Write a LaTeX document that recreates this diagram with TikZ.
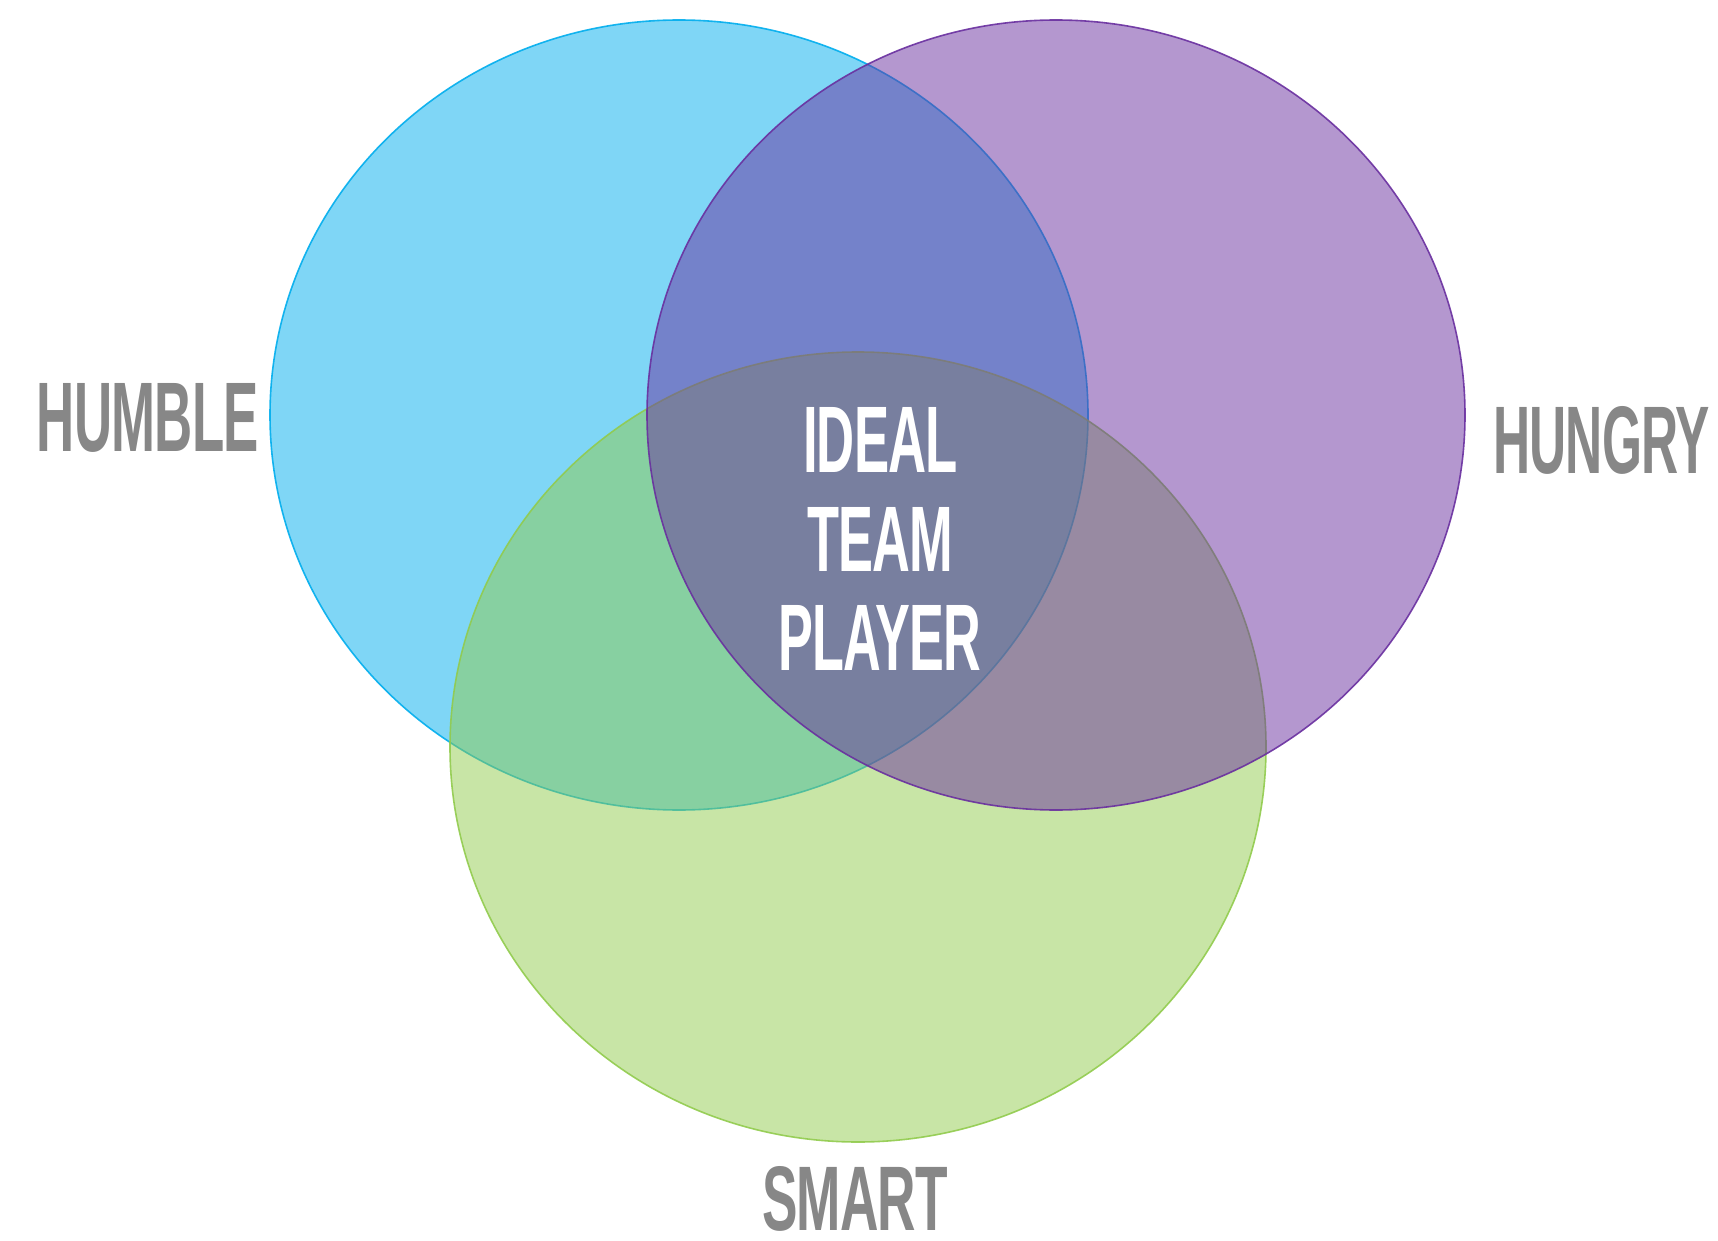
\documentclass[tikz,border=0pt]{standalone}
\usepackage{fontspec}
\setmainfont{Liberation Sans}
\usepackage{graphicx}
\definecolor{cblue}{RGB}{0,173,237}
\definecolor{cpurple}{RGB}{105,47,159}
\definecolor{cgreen}{RGB}{145,203,77}
\definecolor{labelgray}{RGB}{135,135,135}
\tikzset{
  venn/.style={fill opacity=0.5, draw opacity=0.9, line width=1.6pt},
  lbl/.style={anchor=base west, inner sep=0pt, outer sep=0pt, font=\bfseries\addfontfeatures{LetterSpace=-1.5}},
}
\newcommand{\fitlbl}[3]{\resizebox{#1pt}{#2pt}{#3}}
\begin{document}
\begin{tikzpicture}[x=1pt,y=-1pt]
\useasboundingbox (0,0) rectangle (1718,1241);
% circles: blue, green, purple (stacking order)
\path[venn, fill=cblue, draw=cblue] (679,415) ellipse [x radius=409pt, y radius=395pt];
\path[venn, fill=cgreen, draw=cgreen] (858,747) ellipse [x radius=408pt, y radius=395pt];
\path[venn, fill=cpurple, draw=cpurple] (1056,415) ellipse [x radius=409pt, y radius=395pt];
% labels
\node[lbl, text=labelgray] (humble) at (37,451) {\fitlbl{222}{68}{HUMBLE}};
\node[lbl, text=labelgray] (hungry) at (1493,473) {\fitlbl{217}{67}{HUNGRY}};
\node[lbl, text=labelgray] (smart) at (762,1230) {\fitlbl{186}{64}{SMART}};
\node[lbl, text=white] (ideal) at (803,472) {\fitlbl{155}{65}{IDEAL}};
\node[lbl, text=white] (team) at (807,571) {\fitlbl{146}{64}{TEAM}};
\node[lbl, text=white] (player) at (778,670) {\fitlbl{203}{65}{PLAYER}};
\end{tikzpicture}
\end{document}
